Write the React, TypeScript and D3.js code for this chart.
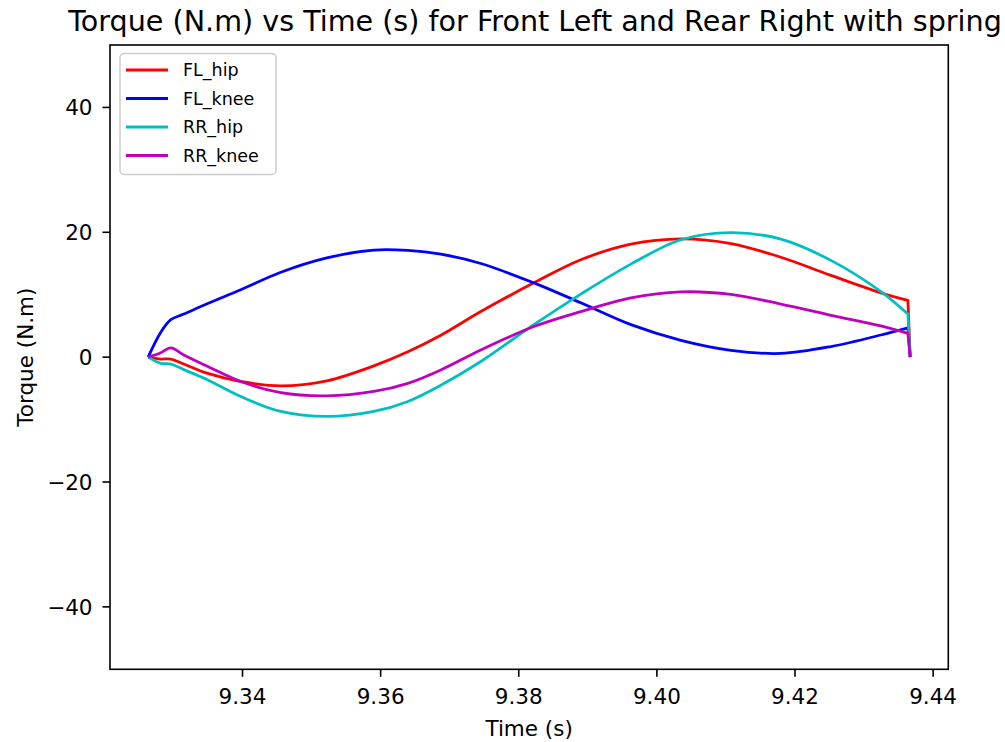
import React from 'react';
import * as d3 from 'd3';

const times = [9.32633, 9.32817, 9.32962, 9.3315, 9.33497, 9.33975, 9.34555, 9.35221, 9.35902, 9.36394, 9.36872, 9.37451, 9.38219, 9.38899, 9.39624, 9.40348, 9.41072, 9.41796, 9.4252, 9.43244, 9.43635, 9.43668];
const flHip = [0, -0.3, -0.3, -1.1, -2.6, -3.9, -4.6, -3.8, -1.4, 0.85, 3.5, 7.3, 11.9, 15.6, 18.1, 18.95, 18.2, 16.0, 13.1, 10.3, 9.1, 0];
const flKnee = [0, 4.0, 6.0, 6.9, 8.6, 10.8, 13.6, 15.9, 17.15, 17.1, 16.5, 15.0, 11.9, 8.7, 5.2, 2.7, 1.1, 0.6, 1.7, 3.55, 4.7, 0];
const rrHip = [0, -1.0, -1.1, -2.0, -3.65, -6.3, -8.7, -9.5, -8.7, -7.1, -4.5, -0.7, 5.2, 10.1, 14.9, 18.8, 19.95, 18.9, 15.5, 10.5, 6.9, 0];
const rrKnee = [0, 0.7, 1.5, 0.35, -1.5, -3.9, -5.7, -6.2, -5.5, -4.2, -2.05, 1.15, 4.9, 7.3, 9.5, 10.45, 10.05, 8.5, 6.7, 5.0, 3.8, 0];

const seriesNames = ['FL_hip', 'FL_knee', 'RR_hip', 'RR_knee'];
const seriesValues = [flHip, flKnee, rrHip, rrKnee];
const seriesColors = ['#ff0000', '#0000ff', '#00bfbf', '#bf00bf'];

const xTicks = [9.34, 9.36, 9.38, 9.4, 9.42, 9.44];
const yTicks = [-40, -20, 0, 20, 40];

const title = 'Torque (N.m) vs Time (s) for Front Left and Rear Right with spring';
const xLabel = 'Time (s)';
const yLabel = 'Torque (N.m)';

const W = 1005;
const H = 742;
const L = 110, R = 948.3, T = 45, B = 669.3;
const FONT = 'DejaVu Sans, sans-serif';

export default function App() {
  const tMin = d3.min(times) as number;
  const tMax = d3.max(times) as number;
  const m = (tMax - tMin) * 0.05;
  const x = d3.scaleLinear().domain([tMin - m, tMax + m]).range([L, R]);
  const y = d3.scaleLinear().domain([-50, 50]).range([B, T]);
  const line = d3
    .line<[number, number]>()
    .x((d) => x(d[0]))
    .y((d) => y(d[1]))
    .curve(d3.curveCatmullRom.alpha(0.5));

  const pathFor = (vals: number[]) => {
    const pts = times.map((t, j) => [t, vals[j]] as [number, number]);
    const body = line(pts.slice(0, -1)) || '';
    const last = pts[pts.length - 1];
    return body + `L${x(last[0])},${y(last[1])}`;
  };

  const fmtY = (v: number) => (v < 0 ? '\u2212' + Math.abs(v) : String(v));

  return (
    <svg width={W} height={H} style={{ position: 'absolute', left: 0, top: 0, background: '#fff' }} fontFamily={FONT}>
      <rect x={0} y={0} width={W} height={H} fill="#fff" />
      <defs>
        <clipPath id="plotclip">
          <rect x={L} y={T} width={R - L} height={B - T} />
        </clipPath>
      </defs>
      <g clipPath="url(#plotclip)">
        {seriesValues.map((vals, i) => (
          <path
            key={seriesNames[i]}
            d={pathFor(vals)}
            fill="none"
            stroke={seriesColors[i]}
            strokeWidth={2.8}
            strokeLinejoin="round"
          />
        ))}
      </g>
      <rect x={L} y={T} width={R - L} height={B - T} fill="none" stroke="#000" strokeWidth={1.6} />
      {xTicks.map((t) => (
        <g key={'x' + t}>
          <line x1={x(t)} x2={x(t)} y1={B} y2={B + 7.5} stroke="#000" strokeWidth={1.6} />
          <text x={x(t)} y={704} textAnchor="middle" fontSize={21.5} fill="#000">
            {t.toFixed(2)}
          </text>
        </g>
      ))}
      {yTicks.map((v) => (
        <g key={'y' + v}>
          <line x1={L - 7.5} x2={L} y1={y(v)} y2={y(v)} stroke="#000" strokeWidth={1.6} />
          <text x={92.5} y={y(v) + 7.8} textAnchor="end" fontSize={21.5} fill="#000">
            {fmtY(v)}
          </text>
        </g>
      ))}
      <text x={(L + R) / 2} y={736} textAnchor="middle" fontSize={21.5} fill="#000">
        {xLabel}
      </text>
      <text
        transform={`translate(33,${(T + B) / 2}) rotate(-90)`}
        textAnchor="middle"
        fontSize={21.5}
        fill="#000"
      >
        {yLabel}
      </text>
      <text x={535} y={31} textAnchor="middle" fontSize={28.6} fill="#000">
        {title}
      </text>
      <g>
        <rect x={120} y={53.5} width={156} height={121} rx={4} ry={4} fill="#fff" fillOpacity={0.8} stroke="#cccccc" strokeWidth={1.5} />
        {seriesNames.map((name, i) => {
          const ly = 70 + i * 28.5;
          return (
            <g key={'lg' + name}>
              <line x1={126} x2={168} y1={ly} y2={ly} stroke={seriesColors[i]} strokeWidth={2.8} />
              <text x={183} y={ly + 6.3} fontSize={17.5} fill="#000">
                {name}
              </text>
            </g>
          );
        })}
      </g>
    </svg>
  );
}
